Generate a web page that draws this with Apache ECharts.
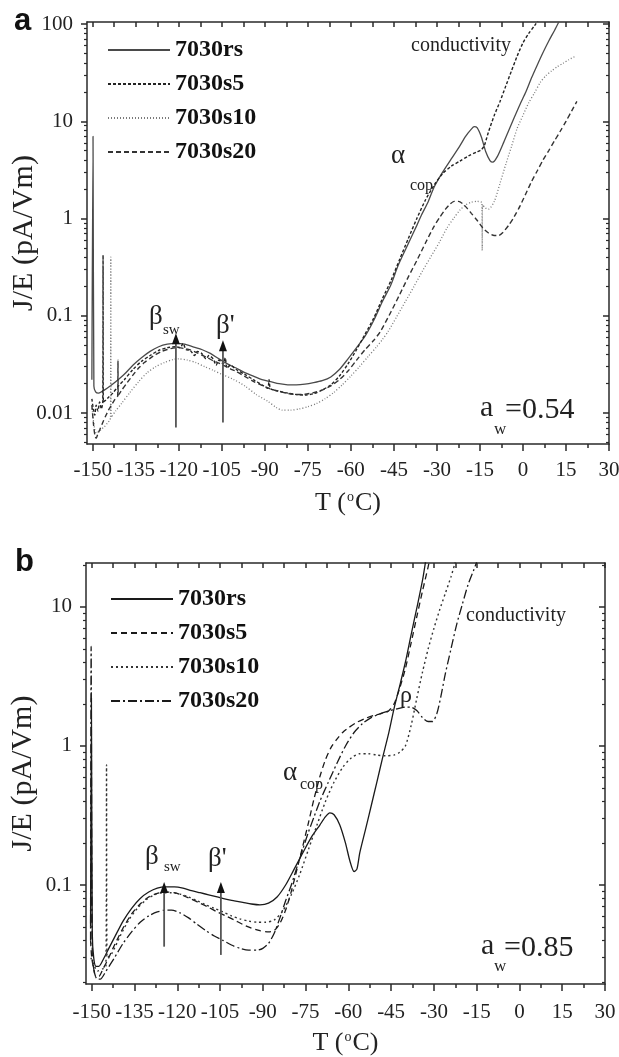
<!DOCTYPE html>
<html>
<head>
<meta charset="utf-8">
<script src="https://cdn.jsdelivr.net/npm/echarts@6/dist/echarts.min.js"></script>
<style>
  html, body { margin: 0; padding: 0; background: #fff; }
  #chart { width: 619px; height: 1057px; }
</style>
</head>
<body>
<div id="chart"></div>
<script>
// ---- Thermally stimulated depolarisation current, J/E vs T ----

const seriesNames = ['7030rs', '7030s5', '7030s10', '7030s20'];

const xTickValues = [-150, -135, -120, -105, -90, -75, -60, -45, -30, -15, 0, 15, 30];
const xMinorValues = [-142.5, -127.5, -112.5, -97.5, -82.5, -67.5, -52.5, -37.5, -22.5, -7.5, 7.5, 22.5];
const yTickValuesA = [0.01, 0.1, 1, 10, 100];
const yTickValuesB = [0.1, 1, 10];
const minorMultipliers = [2, 3, 4, 5, 6, 7, 8, 9];
const decades = [0.001, 0.01, 0.1, 1, 10];

// panel a, a_w = 0.54  — [T (°C), J/E (pA/Vm)]
const a_rs = [[-150.3,0.022],[-149.9,7.0],[-149.6,0.019],[-149,0.0165],[-148,0.016],[-147,0.0165],[-145,0.018],[-142,0.021],[-139,0.025],[-136,0.031],[-133,0.037],[-130,0.043],[-127,0.048],[-124,0.051],[-121,0.052],[-118,0.051],[-115,0.048],[-112,0.045],[-109,0.041],[-106,0.036],[-103,0.032],[-100,0.029],[-97,0.026],[-94,0.024],[-91,0.022],[-88,0.021],[-85,0.020],[-82,0.0195],[-79,0.0195],[-76,0.0198],[-73,0.0205],[-70,0.0215],[-67,0.0235],[-64,0.028],[-61,0.036],[-58,0.047],[-55,0.062],[-52,0.09],[-49,0.14],[-46,0.21],[-43.5,0.33],[-40,0.55],[-37,0.85],[-35.5,1.07],[-33,1.5],[-31,2.1],[-28,3.0],[-25,4.1],[-22,5.6],[-20,7.0],[-18,8.3],[-17,8.8],[-16,8.6],[-14.5,6.9],[-13,4.9],[-11.5,3.95],[-10.5,3.8],[-9,4.3],[-7,5.8],[-5,8.0],[-3,11],[-1,15],[1,20],[3,28],[5,38],[7,51],[9,67],[11,86],[12.5,105]];
const a_s5 = [[-150.3,0.014],[-149.8,0.011],[-149.3,0.0095],[-148.8,0.012],[-148.2,0.0105],[-147.6,0.013],[-147,0.011],[-146.5,0.013],[-146.4,0.42],[-146.3,0.013],[-145.5,0.0135],[-144.5,0.0145],[-143,0.016],[-141,0.019],[-139,0.022],[-136,0.028],[-133,0.034],[-130,0.039],[-127,0.044],[-124,0.047],[-121,0.048],[-119.5,0.047],[-118.5,0.052],[-117.5,0.045],[-116,0.044],[-114.5,0.039],[-113.5,0.043],[-112,0.041],[-110.5,0.036],[-109.5,0.039],[-108,0.036],[-107,0.031],[-106,0.035],[-104.5,0.032],[-103.8,0.037],[-103.2,0.029],[-102,0.031],[-100,0.028],[-97,0.025],[-94,0.022],[-91,0.0195],[-89,0.018],[-88.5,0.022],[-88,0.0178],[-85,0.0168],[-82,0.016],[-79,0.0155],[-76,0.0153],[-73,0.0158],[-70,0.0172],[-67,0.0195],[-64,0.024],[-61,0.032],[-58,0.045],[-55,0.065],[-52,0.095],[-49,0.15],[-46,0.23],[-43,0.38],[-40,0.62],[-37,1.0],[-34,1.55],[-31,2.2],[-28,2.9],[-25,3.45],[-22,3.9],[-19,4.4],[-16,4.85],[-14.5,5.1],[-13.5,5.6],[-12,7.8],[-10,11.5],[-8,16],[-6,23],[-4,33],[-2,47],[0,64],[2,80],[4,96],[5.5,112]];
const a_s10 = [[-150.3,0.012],[-149.8,0.0085],[-149.3,0.0068],[-148.7,0.0062],[-148,0.0064],[-147,0.0068],[-146,0.0072],[-145,0.0078],[-144,0.0085],[-143.8,0.009],[-143.7,0.40],[-143.6,0.009],[-142,0.0105],[-140,0.0125],[-137,0.0163],[-134,0.021],[-131,0.026],[-128,0.030],[-125,0.033],[-122,0.0355],[-120,0.036],[-117,0.035],[-114,0.033],[-111,0.030],[-108,0.0275],[-105,0.025],[-101,0.0222],[-97,0.019],[-93,0.0155],[-89,0.0132],[-86,0.0114],[-84,0.0107],[-81,0.0107],[-78,0.011],[-75,0.0116],[-72,0.0125],[-69,0.014],[-66,0.0162],[-63,0.0195],[-60,0.024],[-57,0.03],[-54,0.038],[-51,0.048],[-49,0.057],[-47,0.069],[-44,0.098],[-41,0.14],[-38,0.2],[-35,0.29],[-32,0.41],[-29,0.58],[-26.5,0.8],[-24,1.02],[-22,1.22],[-20,1.38],[-18,1.47],[-16,1.5],[-14.3,1.45],[-14.2,0.47],[-14.1,1.38],[-13,1.28],[-12,1.25],[-10,1.5],[-8,2.3],[-6,3.6],[-4,5.5],[-2,8.5],[0,11.5],[2,15.5],[4,19.5],[6,25],[8,29.5],[10,33],[12,36.5],[14,39.5],[16,43],[18.5,47]];
const a_s20 = [[-150.3,0.012],[-149.7,0.0075],[-149.2,0.0058],[-148.8,0.0055],[-148.3,0.006],[-147.5,0.0068],[-146.5,0.008],[-145.5,0.0093],[-144.5,0.0107],[-143.5,0.012],[-142.5,0.0135],[-141.3,0.015],[-141.2,0.035],[-141.1,0.0152],[-140,0.017],[-138,0.0205],[-136,0.0245],[-134,0.029],[-132,0.033],[-130,0.0365],[-128,0.04],[-126,0.043],[-124,0.045],[-122,0.0465],[-120,0.047],[-118,0.046],[-116,0.0445],[-114,0.042],[-112,0.0395],[-110,0.037],[-108,0.0345],[-106,0.0325],[-104,0.0305],[-102,0.0285],[-100,0.0268],[-97,0.0238],[-94,0.0212],[-91,0.0192],[-88,0.0177],[-85,0.0166],[-82,0.0159],[-79,0.0155],[-76,0.0156],[-73,0.0162],[-70,0.0172],[-67,0.019],[-64,0.022],[-61,0.027],[-58,0.035],[-55,0.045],[-52,0.056],[-49.7,0.069],[-46,0.11],[-43,0.165],[-40,0.25],[-37,0.37],[-34,0.56],[-31,0.83],[-29,1.03],[-27,1.25],[-25.5,1.4],[-24,1.5],[-22.5,1.5],[-21,1.42],[-19.5,1.28],[-18,1.13],[-16,0.96],[-14,0.8],[-12,0.71],[-10,0.67],[-8.5,0.67],[-7,0.72],[-5,0.85],[-3,1.05],[-1,1.35],[1,1.8],[3,2.4],[5,3.1],[7,4.0],[9,5.0],[11,6.3],[13,7.9],[15,10],[17,12.8],[18.8,16]];

// panel b, a_w = 0.85
const b_rs = [[-150.4,0.05],[-150.1,2.2],[-149.8,0.045],[-149.3,0.03],[-148.5,0.026],[-147.5,0.026],[-146,0.029],[-144,0.035],[-142,0.042],[-139,0.055],[-136,0.068],[-133,0.08],[-130,0.089],[-127,0.095],[-124,0.097],[-121,0.097],[-118,0.095],[-115,0.091],[-112,0.088],[-109,0.085],[-106,0.082],[-103,0.079],[-100,0.077],[-97,0.075],[-94,0.073],[-91,0.072],[-88,0.074],[-85,0.082],[-82,0.10],[-79,0.13],[-76,0.17],[-73,0.22],[-70,0.27],[-68,0.31],[-66.5,0.33],[-65,0.32],[-63,0.27],[-61,0.2],[-59.5,0.15],[-58,0.125],[-57,0.13],[-56,0.17],[-54,0.25],[-52,0.37],[-50,0.55],[-48,0.82],[-46,1.2],[-44,1.85],[-42,2.7],[-40,4.0],[-38,6.3],[-36,9.8],[-34,15.5],[-32.8,22]];
const b_s5 = [[-150.4,0.04],[-150,0.03],[-149.3,0.025],[-148.5,0.022],[-147.5,0.022],[-146,0.025],[-144,0.03],[-142,0.037],[-139,0.049],[-136,0.062],[-133,0.073],[-130,0.082],[-127,0.087],[-124,0.089],[-121,0.088],[-118,0.084],[-115,0.079],[-112,0.074],[-109,0.069],[-106,0.064],[-103,0.06],[-100,0.056],[-97,0.052],[-94,0.049],[-91,0.047],[-88,0.046],[-86,0.047],[-84,0.053],[-82,0.066],[-80,0.09],[-78,0.13],[-76,0.19],[-74,0.28],[-72,0.42],[-70,0.6],[-68,0.8],[-66,0.98],[-64,1.12],[-62,1.25],[-60,1.35],[-57,1.48],[-54,1.58],[-51,1.66],[-48,1.72],[-46,1.78],[-44,2.0],[-42,2.6],[-40,3.6],[-38,5.5],[-36,8.5],[-34,13],[-32,19.5],[-31.5,22]];
const b_s10 = [[-150.3,0.03],[-149,0.026],[-148,0.024],[-146,0.025],[-145,0.026],[-144.8,0.73],[-144.6,0.03],[-143,0.032],[-140,0.043],[-137,0.056],[-134,0.068],[-131,0.078],[-128,0.085],[-125,0.088],[-122,0.088],[-119,0.086],[-116,0.082],[-113,0.077],[-110,0.072],[-107,0.068],[-104,0.064],[-101,0.06],[-98,0.057],[-95,0.055],[-92,0.054],[-89,0.054],[-86,0.056],[-83,0.065],[-80,0.085],[-77,0.12],[-74,0.18],[-71,0.27],[-68,0.4],[-65,0.55],[-62,0.7],[-59,0.82],[-56,0.88],[-53,0.88],[-50,0.86],[-47,0.85],[-44,0.86],[-42,0.9],[-40,1.0],[-38,1.4],[-36,2.2],[-34,3.4],[-32,5.0],[-30,7.0],[-28,9.5],[-26,12.5],[-24,16.5],[-22.5,21]];
const b_s20 = [[-150.4,0.04],[-150.2,5.2],[-149.8,0.032],[-149,0.023],[-148,0.021],[-147,0.021],[-145,0.024],[-142,0.03],[-139,0.038],[-136,0.046],[-133,0.054],[-130,0.06],[-127,0.064],[-124,0.066],[-122,0.066],[-119,0.063],[-116,0.058],[-113,0.052],[-110,0.047],[-107,0.043],[-104,0.04],[-101,0.037],[-98,0.035],[-95,0.034],[-92,0.034],[-90,0.035],[-88,0.038],[-86,0.045],[-84,0.058],[-82,0.077],[-80,0.1],[-78,0.135],[-76,0.18],[-74,0.24],[-72,0.31],[-70,0.4],[-67,0.55],[-64,0.75],[-61,1.0],[-58,1.25],[-55,1.45],[-52,1.6],[-49,1.7],[-46,1.78],[-43,1.85],[-40,1.9],[-38,1.9],[-36,1.8],[-34,1.6],[-32,1.5],[-30.5,1.5],[-29,1.7],[-27.5,2.3],[-26,3.3],[-24,5.0],[-22,7.5],[-20,10.5],[-18,14.5],[-16,18.5],[-15,21]];

// relaxation markers: [T, arrow foot, arrow tip]
const arrowsA = [[-121, 0.0071, 0.066], [-104.6, 0.008, 0.056]];
const arrowsB = [[-124.6, 0.036, 0.105], [-104.7, 0.0314, 0.105]];

// ---- styling ----
const SERIF = '"Liberation Serif", "DejaVu Serif", serif';
const AX = '#2a2a2a';
const yMinor = [];
decades.forEach(d => minorMultipliers.forEach(m => yMinor.push(+(d * m).toPrecision(3))));

const panels = [
  { grid: { left: 87, top: 22, width: 522, height: 422 }, yMin: 0.0048, yMax: 105, yTicks: yTickValuesA,
    data: [a_rs, a_s5, a_s10, a_s20], arrows: arrowsA, prefix: '',
    colors: ['#4a4a4a', '#222', '#7a7a7a', '#333'],
    dashes: ['solid', [3, 2], [1, 2], [5, 3]], widths: [1.3, 1.4, 1.3, 1.4],
    legendTop: 33, legendLeft: 102 },
  { grid: { left: 86, top: 563, width: 519, height: 421 }, yMin: 0.0194, yMax: 20.7, yTicks: yTickValuesB,
    data: [b_rs, b_s5, b_s10, b_s20], arrows: arrowsB, prefix: 'b ',
    colors: ['#1a1a1a', '#1a1a1a', '#333', '#1a1a1a'],
    dashes: ['solid', [6, 4], [2, 3], [9, 3, 2, 3]], widths: [1.3, 1.3, 1.4, 1.3],
    legendTop: 582, legendLeft: 105 }
];

const grids = [], xAxes = [], yAxes = [], series = [], legends = [];

panels.forEach((p, gi) => {
  grids.push(Object.assign({ outerBoundsMode: 'none', containLabel: false }, p.grid));
  const xBase = xAxes.length, yBase = yAxes.length;
  const lineStyle = { color: AX, width: 1.5 };
  // bottom: major ticks + labels
  xAxes.push({ type: 'value', gridIndex: gi, min: -152, max: 30, position: 'bottom',
    axisLine: { show: true, onZero: false, lineStyle },
    axisTick: { show: true, inside: false, length: 7, customValues: xTickValues, lineStyle },
    axisLabel: { show: true, customValues: xTickValues, margin: gi === 0 ? 16 : 18, fontFamily: SERIF, fontSize: 21, color: '#222',
      formatter: v => String(v) },
    splitLine: { show: false },
    name: 'T ({sup|o}C)', nameLocation: 'middle', nameGap: 46, nameMoveOverlap: false,
    nameTextStyle: { fontFamily: SERIF, fontSize: 26, color: '#222',
      rich: { sup: { fontFamily: SERIF, fontSize: 14, color: '#222', verticalAlign: 'top', padding: [0, 1, 12, 1] } } } });
  // bottom: minor ticks
  xAxes.push({ type: 'value', gridIndex: gi, min: -152, max: 30, position: 'bottom',
    axisLine: { show: false, onZero: false }, axisLabel: { show: false }, splitLine: { show: false },
    axisTick: { show: true, inside: false, length: 4, customValues: xMinorValues, lineStyle } });
  // top: all ticks pointing in
  xAxes.push({ type: 'value', gridIndex: gi, min: -152, max: 30, position: 'top',
    axisLine: { show: true, onZero: false, lineStyle }, axisLabel: { show: false }, splitLine: { show: false },
    axisTick: { show: true, inside: true, length: 5, customValues: xTickValues.concat(xMinorValues), lineStyle } });

  const yCommon = { type: 'log', logBase: 10, gridIndex: gi, min: p.yMin, max: p.yMax, splitLine: { show: false } };
  yAxes.push(Object.assign({}, yCommon, { position: 'left',
    axisLine: { show: true, onZero: false, lineStyle },
    axisTick: { show: true, inside: false, length: 6, customValues: p.yTicks, lineStyle },
    axisLabel: { show: true, customValues: p.yTicks, margin: 14, fontFamily: SERIF, fontSize: 21, color: '#222',
      formatter: v => String(+(+v).toPrecision(3)) },
    name: 'J/E (pA/Vm)', nameLocation: 'middle', nameGap: 48, nameRotate: 90, nameMoveOverlap: false,
    nameTextStyle: { fontFamily: SERIF, fontSize: 30, color: '#222' } }));
  yAxes.push(Object.assign({}, yCommon, { position: 'left',
    axisLine: { show: false, onZero: false }, axisLabel: { show: false },
    axisTick: { show: true, inside: false, length: 3, customValues: yMinor, lineStyle: { color: AX, width: 1.2 } } }));
  yAxes.push(Object.assign({}, yCommon, { position: 'right',
    axisLine: { show: true, onZero: false, lineStyle }, axisLabel: { show: false },
    axisTick: { show: true, inside: true, length: 6, customValues: p.yTicks, lineStyle } }));
  yAxes.push(Object.assign({}, yCommon, { position: 'right',
    axisLine: { show: false, onZero: false }, axisLabel: { show: false },
    axisTick: { show: true, inside: true, length: 3, customValues: yMinor, lineStyle: { color: AX, width: 1.2 } } }));

  seriesNames.forEach((nm, si) => {
    series.push({ type: 'line', name: p.prefix + nm, xAxisIndex: xBase, yAxisIndex: yBase,
      data: p.data[si], showSymbol: false, symbol: 'none', smooth: 0.25, clip: true,
      color: p.colors[si],
      lineStyle: { color: p.colors[si], width: p.widths[si], type: p.dashes[si] },
      emphasis: { disabled: true }, z: 3 });
  });

  series.push({ type: 'custom', xAxisIndex: xBase, yAxisIndex: yBase, data: p.arrows, z: 5,
    encode: { x: 0, y: [1, 2] }, silent: true,
    renderItem: (params, api) => {
      const foot = api.coord([api.value(0), api.value(1)]);
      const tip = api.coord([api.value(0), api.value(2)]);
      return { type: 'group', children: [
        { type: 'line', shape: { x1: foot[0], y1: foot[1], x2: tip[0], y2: tip[1] + 8 },
          style: { stroke: '#555', lineWidth: 1.8 } },
        { type: 'polygon', shape: { points: [[tip[0], tip[1]], [tip[0] - 4, tip[1] + 11], [tip[0] + 4, tip[1] + 11]] },
          style: { fill: '#111' } }
      ] };
    } });

  legends.push({ show: true, orient: 'vertical', left: p.legendLeft, top: p.legendTop,
    data: seriesNames.map(n => p.prefix + n), itemWidth: 62, itemHeight: 14, itemGap: 10,
    selectedMode: false, itemStyle: { opacity: 0, borderWidth: 0 },
    formatter: n => n.slice(p.prefix.length),
    textStyle: { fontFamily: SERIF, fontSize: 24, fontWeight: 'bold', color: '#111', lineHeight: 24 } });
});

// free text annotations
function txt(x, y, text, size) {
  return { type: 'text', left: x, top: y,
    style: { text, fontFamily: SERIF, fontSize: size, fill: '#222' } };
}
const graphics = [
  { type: 'text', left: 14, top: 6, style: { text: 'a', fontFamily: '"Liberation Sans", Arial, sans-serif', fontWeight: 'bold', fontSize: 31, fill: '#111' } },
  { type: 'text', left: 15, top: 547, style: { text: 'b', fontFamily: '"Liberation Sans", Arial, sans-serif', fontWeight: 'bold', fontSize: 31, fill: '#111' } },
  // panel a
  txt(411, 36, 'conductivity', 20),
  txt(391, 142, 'α', 27),
  txt(410, 178, 'cop', 16),
  txt(149, 303, 'β', 27),
  txt(163, 323, 'sw', 15),
  txt(216, 312, "β'", 27),
  txt(480, 393, 'a', 30),
  txt(494, 421, 'w', 17),
  txt(505, 395, '=0.54', 30),
  // panel b
  txt(466, 606, 'conductivity', 20),
  txt(400, 684, 'ρ', 24),
  txt(283, 759, 'α', 27),
  txt(300, 777, 'cop', 16),
  txt(145, 843, 'β', 27),
  txt(164, 860, 'sw', 15),
  txt(208, 845, "β'", 27),
  txt(481, 931, 'a', 30),
  txt(494, 958, 'w', 17),
  txt(504, 933, '=0.85', 30)
];

const chart = echarts.init(document.getElementById('chart'), null, { renderer: 'canvas' });
chart.setOption({
  animation: false,
  backgroundColor: '#fff',
  grid: grids,
  xAxis: xAxes,
  yAxis: yAxes,
  legend: legends,
  series,
  graphic: graphics
});
</script>
</body>
</html>
